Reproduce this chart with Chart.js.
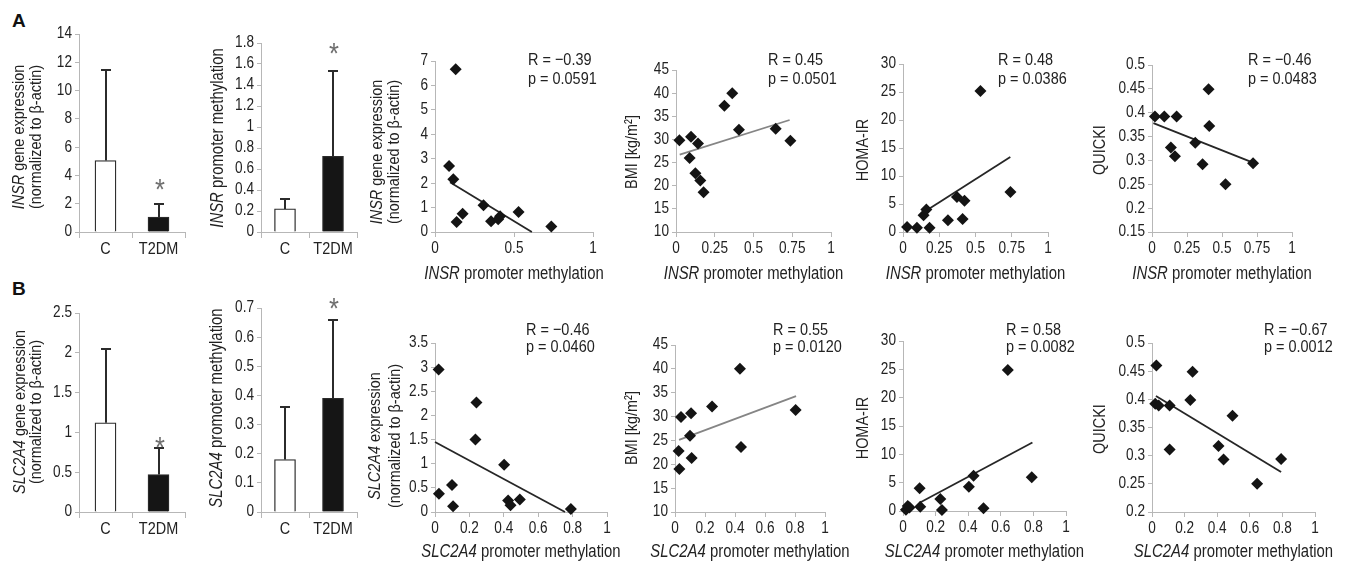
<!DOCTYPE html>
<html>
<head>
<meta charset="utf-8">
<script src="https://cdn.jsdelivr.net/npm/chart.js@4.4.1/dist/chart.umd.min.js"></script>
<style>
  html, body { margin: 0; padding: 0; background: #fff; }
  body { position: relative; width: 1346px; height: 563px; overflow: hidden; }
  canvas { position: absolute; }
  .tag { position: absolute; font: bold 19px 'Liberation Sans', Arial, sans-serif; color: #111; }
</style>
</head>
<body>
<div class="tag" style="left:12px;top:10px">A</div>
<div class="tag" style="left:12px;top:278px">B</div>
<script>
// ---- group bar data (mean and SD, upper error bar only) ----
const GROUPS = ['C', 'T2DM'];
const INSR_EXPR_MEAN = [5.05, 1.05];
const INSR_EXPR_SD = [6.4, 0.95];
const INSR_METH_MEAN = [0.22, 0.72];
const INSR_METH_SD = [0.09, 0.81];
const SLC_EXPR_MEAN = [1.12, 0.47];
const SLC_EXPR_SD = [0.93, 0.34];
const SLC_METH_MEAN = [0.18, 0.39];
const SLC_METH_SD = [0.18, 0.27];

// ---- correlation data: promoter methylation (x) vs. parameter (y) ----
const INSR_EXPR_X = [0.131, 0.089, 0.116, 0.137, 0.175, 0.307, 0.355, 0.412, 0.40, 0.529, 0.736];
const INSR_EXPR_Y = [6.66, 2.70, 2.16, 0.41, 0.75, 1.09, 0.44, 0.64, 0.52, 0.82, 0.23];
const INSR_EXPR_FIT = [[0.095, 2.04], [0.613, 0]];

const INSR_BMI_X = [0.022, 0.097, 0.088, 0.142, 0.125, 0.157, 0.178, 0.312, 0.363, 0.406, 0.643, 0.738];
const INSR_BMI_Y = [29.8, 30.6, 26.0, 29.1, 22.7, 21.1, 18.6, 37.3, 40.0, 32.1, 32.3, 29.7];
const INSR_BMI_FIT = [[0.024, 26.7], [0.733, 34.2]];

const INSR_HOMA_X = [0.028, 0.096, 0.142, 0.161, 0.183, 0.310, 0.372, 0.424, 0.411, 0.534, 0.741];
const INSR_HOMA_Y = [0.89, 0.78, 2.98, 4.0, 0.78, 2.09, 6.26, 5.6, 2.33, 25.2, 7.16];
const INSR_HOMA_FIT = [[0.14, 3.5], [0.74, 13.4]];

const INSR_QUICKI_X = [0.021, 0.088, 0.176, 0.135, 0.164, 0.309, 0.361, 0.404, 0.409, 0.525, 0.722];
const INSR_QUICKI_Y = [0.392, 0.392, 0.392, 0.327, 0.309, 0.337, 0.292, 0.449, 0.372, 0.250, 0.294];
const INSR_QUICKI_FIT = [[0.01, 0.378], [0.717, 0.296]];

const SLC_EXPR_X = [0.021, 0.023, 0.099, 0.105, 0.241, 0.235, 0.402, 0.425, 0.439, 0.493, 0.790];
const SLC_EXPR_Y = [2.95, 0.38, 0.56, 0.12, 2.27, 1.50, 0.98, 0.24, 0.14, 0.26, 0.06];
const SLC_EXPR_FIT = [[0.0, 1.45], [0.756, 0]];

const SLC_BMI_X = [0.04, 0.107, 0.10, 0.024, 0.029, 0.111, 0.247, 0.433, 0.44, 0.804];
const SLC_BMI_Y = [29.9, 30.7, 26.0, 22.8, 19.0, 21.3, 32.1, 40.0, 23.6, 31.4];
const SLC_BMI_FIT = [[0.027, 25.1], [0.807, 34.3]];

const SLC_HOMA_X = [0.018, 0.029, 0.04, 0.102, 0.106, 0.229, 0.239, 0.404, 0.433, 0.494, 0.643, 0.79];
const SLC_HOMA_Y = [0.2, 0.9, 0.6, 4.0, 0.76, 2.1, 0.18, 4.3, 6.2, 0.47, 24.9, 5.95];
const SLC_HOMA_FIT = [[0.102, 1.47], [0.794, 12.1]];

const SLC_QUICKI_X = [0.027, 0.020, 0.041, 0.108, 0.108, 0.235, 0.249, 0.494, 0.408, 0.439, 0.645, 0.792];
const SLC_QUICKI_Y = [0.460, 0.392, 0.389, 0.389, 0.311, 0.399, 0.449, 0.371, 0.317, 0.293, 0.250, 0.294];
const SLC_QUICKI_FIT = [[0.024, 0.406], [0.792, 0.271]];

// ---- tick labels ----
const TICKS_INSR_EXPR_BAR = [0, 2, 4, 6, 8, 10, 12, 14];
const TICKS_INSR_METH_BAR = [0, 0.2, 0.4, 0.6, 0.8, 1, 1.2, 1.4, 1.6, 1.8];
const TICKS_SLC_EXPR_BAR = [0, 0.5, 1, 1.5, 2, 2.5];
const TICKS_SLC_METH_BAR = [0, 0.1, 0.2, 0.3, 0.4, 0.5, 0.6, 0.7];
const TICKS_X_HALF = [0, 0.5, 1];
const TICKS_X_QUARTER = [0, 0.25, 0.5, 0.75, 1];
const TICKS_X_FIFTH = [0, 0.2, 0.4, 0.6, 0.8, 1];
const TICKS_INSR_EXPR = [0, 1, 2, 3, 4, 5, 6, 7];
const TICKS_BMI = [10, 15, 20, 25, 30, 35, 40, 45];
const TICKS_HOMA = [0, 5, 10, 15, 20, 25, 30];
const TICKS_INSR_QUICKI = [0.15, 0.2, 0.25, 0.3, 0.35, 0.4, 0.45, 0.5];
const TICKS_SLC_EXPR = [0, 0.5, 1, 1.5, 2, 2.5, 3, 3.5];
const TICKS_SLC_QUICKI = [0.2, 0.25, 0.3, 0.35, 0.4, 0.45, 0.5];

// ---- statistics printed in each correlation panel ----
const STATS_INSR = [['R = \u22120.39', 'p = 0.0591'], ['R = 0.45', 'p = 0.0501'], ['R = 0.48', 'p = 0.0386'], ['R = \u22120.46', 'p = 0.0483']];
const STATS_SLC = [['R = \u22120.46', 'p = 0.0460'], ['R = 0.55', 'p = 0.0120'], ['R = 0.58', 'p = 0.0082'], ['R = \u22120.67', 'p = 0.0012']];

// ---- styling ----
const FONT = "'Liberation Sans',Arial,sans-serif";
const SQUEEZE = 0.85;          // horizontal compression for a condensed type look
const AXIS = '#b7b7b7';
const INK = '#222';
const TICK_SIZE = 16;
const AW = 80, TOP = 45, XH = 52, RP = 60;

// Draw all canvas text horizontally condensed, keeping the anchor point fixed.
function condense(ctx) {
  const fill = ctx.fillText.bind(ctx);
  const measure = ctx.measureText.bind(ctx);
  ctx.fillText = function (text, x, y) {
    ctx.save();
    ctx.translate(x, y);
    ctx.scale(SQUEEZE, 1);
    fill(text, 0, 0);
    ctx.restore();
  };
  ctx.measureText = function (text) {
    const m = measure(text);
    return {
      width: m.width * SQUEEZE,
      actualBoundingBoxAscent: m.actualBoundingBoxAscent,
      actualBoundingBoxDescent: m.actualBoundingBoxDescent,
      actualBoundingBoxLeft: m.actualBoundingBoxLeft * SQUEEZE,
      actualBoundingBoxRight: m.actualBoundingBoxRight * SQUEEZE,
      fontBoundingBoxAscent: m.fontBoundingBoxAscent,
      fontBoundingBoxDescent: m.fontBoundingBoxDescent
    };
  };
}

function richLine(ctx, segs, x, y, size) {
  const fonts = segs.map(s => (s.i ? 'italic ' : '') + size + 'px ' + FONT);
  let total = 0;
  const ws = segs.map((s, k) => { ctx.font = fonts[k]; const w = ctx.measureText(s.t).width; total += w; return w; });
  let cx = x - total / 2;
  ctx.textAlign = 'left';
  ctx.textBaseline = 'middle';
  segs.forEach((s, k) => { ctx.font = fonts[k]; ctx.fillText(s.t, cx, y); cx += ws[k]; });
}

const panelText = {
  id: 'panelText',
  afterDatasetsDraw(chart, args, o) {
    if (!o.errTop) return;
    const ctx = chart.ctx;
    const ys = chart.scales.y;
    const meta = chart.getDatasetMeta(0);
    ctx.save();
    meta.data.forEach((bar, i) => {
      const yTop = Math.round(ys.getPixelForValue(o.errTop[i]));
      const bx = Math.round(bar.x);
      ctx.strokeStyle = '#2b2b2b';
      ctx.lineWidth = 2;
      ctx.beginPath();
      ctx.moveTo(bx, bar.y);
      ctx.lineTo(bx, yTop);
      ctx.moveTo(bx - 5, yTop);
      ctx.lineTo(bx + 5, yTop);
      ctx.stroke();
      if (o.star && o.star[i] != null) {
        ctx.font = '30px ' + FONT;
        ctx.fillStyle = '#707070';
        ctx.textAlign = 'center';
        ctx.textBaseline = 'alphabetic';
        const m = ctx.measureText('*');
        const cy = yTop - o.star[i];
        ctx.fillText('*', bx + 1, cy + (m.actualBoundingBoxAscent - m.actualBoundingBoxDescent) / 2);
      }
    });
    ctx.restore();
  },
  afterDraw(chart, args, o) {
    const ctx = chart.ctx;
    const ox = o.ox, oy = o.oy;
    ctx.save();
    ctx.fillStyle = INK;
    if (o.yTitle) {
      o.yTitle.lines.forEach((segs, k) => {
        ctx.save();
        ctx.translate(o.yTitle.x[k] - ox, o.yTitle.cy - oy);
        ctx.rotate(-Math.PI / 2);
        richLine(ctx, segs, 0, 0, o.yTitle.size);
        ctx.restore();
      });
    }
    if (o.xTitle) {
      const a = chart.chartArea;
      richLine(ctx, o.xTitle.segs, (a.left + a.right) / 2, o.xTitle.cy - oy, 17.5);
    }
    if (o.note) {
      ctx.font = '17px ' + FONT;
      ctx.textAlign = 'left';
      ctx.textBaseline = 'alphabetic';
      o.note.lines.forEach((t, k) => ctx.fillText(t, o.note.x - ox, o.note.y[k] - oy));
    }
    ctx.restore();
  }
};

function makeCanvas(rect) {
  const c = document.createElement('canvas');
  const w = rect.r - rect.l + AW + RP;
  const h = rect.b - rect.t + TOP + XH;
  c.width = w; c.height = h;
  c.style.left = (rect.l - AW) + 'px';
  c.style.top = (rect.t - TOP) + 'px';
  c.style.width = w + 'px';
  c.style.height = h + 'px';
  document.body.appendChild(c);
  condense(c.getContext('2d'));
  return { c, ox: rect.l - AW, oy: rect.t - TOP };
}

function yAxis(min, max, ticks) {
  return {
    type: 'linear', min, max,
    afterBuildTicks: s => { s.ticks = ticks.map(v => ({ value: v })); },
    afterFit: s => { s.width = AW; },
    grid: { drawOnChartArea: false, drawTicks: true, tickLength: 4, color: AXIS, lineWidth: 1 },
    border: { display: true, color: AXIS, width: 1 },
    ticks: { color: INK, font: { family: FONT, size: TICK_SIZE }, padding: 3, autoSkip: false, callback: v => String(v) }
  };
}

function barPanel(rect, mean, sd, ticks, yTitle, star) {
  const { c, ox, oy } = makeCanvas(rect);
  new Chart(c, {
    type: 'bar',
    data: {
      labels: GROUPS,
      datasets: [{
        data: mean,
        backgroundColor: ['#ffffff', '#151515'],
        borderColor: '#2a2a2a',
        borderWidth: 1.3,
        barThickness: 21
      }]
    },
    options: {
      responsive: false, animation: false,
      layout: { padding: { left: 0, top: TOP, right: RP, bottom: 0 } },
      plugins: {
        legend: { display: false }, tooltip: { enabled: false },
        panelText: { ox, oy, errTop: mean.map((m, i) => m + sd[i]), star, yTitle }
      },
      scales: {
        x: {
          type: 'category',
          afterFit: s => { s.height = XH; },
          grid: { offset: true, drawOnChartArea: false, tickLength: 6, color: AXIS },
          border: { display: true, color: AXIS },
          ticks: { color: INK, font: { family: FONT, size: 17 }, padding: 1, autoSkip: false, maxRotation: 0, minRotation: 0 }
        },
        y: yAxis(0, ticks[ticks.length - 1], ticks)
      }
    },
    plugins: [panelText]
  });
}

function scatterPanel(rect, xs, ys, fit, fitColor, xTicks, yTicks, xTitle, yTitle, note) {
  const { c, ox, oy } = makeCanvas(rect);
  new Chart(c, {
    type: 'scatter',
    data: {
      datasets: [
        {
          data: xs.map((x, i) => ({ x, y: ys[i] })),
          pointStyle: 'rectRot', pointRadius: 6, pointBorderWidth: 0,
          backgroundColor: '#141414', borderColor: '#141414', clip: false
        },
        {
          type: 'line', showLine: true,
          data: fit.map(p => ({ x: p[0], y: p[1] })),
          borderColor: fitColor, borderWidth: 1.8, pointRadius: 0, fill: false, clip: false
        }
      ]
    },
    options: {
      responsive: false, animation: false,
      layout: { padding: { left: 0, top: TOP, right: RP, bottom: 0 } },
      plugins: {
        legend: { display: false }, tooltip: { enabled: false },
        panelText: { ox, oy, xTitle, yTitle, note }
      },
      scales: {
        x: {
          type: 'linear', min: xTicks[0], max: xTicks[xTicks.length - 1],
          afterBuildTicks: s => { s.ticks = xTicks.map(v => ({ value: v })); },
          afterFit: s => { s.height = XH; },
          grid: { drawOnChartArea: false, tickLength: 5, color: AXIS },
          border: { display: true, color: AXIS },
          ticks: { color: INK, font: { family: FONT, size: TICK_SIZE }, padding: 2, autoSkip: false, maxRotation: 0, minRotation: 0, callback: v => String(v) }
        },
        y: yAxis(yTicks[0], yTicks[yTicks.length - 1], yTicks)
      }
    },
    plugins: [panelText]
  });
}

// axis titles
const INSR_METH_TITLE = [{ t: 'INSR', i: true }, { t: ' promoter methylation' }];
const SLC_METH_TITLE = [{ t: 'SLC2A4', i: true }, { t: ' promoter methylation' }];
const NORM_LINE = [{ t: '(normalized to \u03b2-actin)' }];

// ---- row A: INSR ----
barPanel({ l: 79, t: 34, r: 185, b: 232 }, INSR_EXPR_MEAN, INSR_EXPR_SD, TICKS_INSR_EXPR_BAR,
  { lines: [[{ t: 'INSR', i: true }, { t: ' gene expression' }], NORM_LINE], x: [19, 36], cy: 137, size: 17 },
  [null, 20]);
barPanel({ l: 261, t: 43, r: 357, b: 232 }, INSR_METH_MEAN, INSR_METH_SD, TICKS_INSR_METH_BAR,
  { lines: [INSR_METH_TITLE], x: [218], cy: 138, size: 17.5 },
  [null, 23]);

const rowAX = { segs: INSR_METH_TITLE, cy: 274 };
scatterPanel({ l: 435, t: 61, r: 593, b: 232 }, INSR_EXPR_X, INSR_EXPR_Y, INSR_EXPR_FIT, '#262626',
  TICKS_X_HALF, TICKS_INSR_EXPR, rowAX,
  { lines: [[{ t: 'INSR', i: true }, { t: ' gene expression' }], NORM_LINE], x: [377, 394], cy: 152, size: 17 },
  { x: 528, y: [65, 84], lines: STATS_INSR[0] });
scatterPanel({ l: 676, t: 70, r: 831, b: 232 }, INSR_BMI_X, INSR_BMI_Y, INSR_BMI_FIT, '#858585',
  TICKS_X_QUARTER, TICKS_BMI, rowAX,
  { lines: [[{ t: 'BMI [kg/m\u00b2]' }]], x: [632], cy: 152, size: 17 },
  { x: 768, y: [65, 84], lines: STATS_INSR[1] });
scatterPanel({ l: 903, t: 64, r: 1048, b: 232 }, INSR_HOMA_X, INSR_HOMA_Y, INSR_HOMA_FIT, '#262626',
  TICKS_X_QUARTER, TICKS_HOMA, rowAX,
  { lines: [[{ t: 'HOMA-IR' }]], x: [863], cy: 150, size: 17 },
  { x: 998, y: [65, 84], lines: STATS_INSR[2] });
scatterPanel({ l: 1152, t: 65, r: 1292, b: 232 }, INSR_QUICKI_X, INSR_QUICKI_Y, INSR_QUICKI_FIT, '#262626',
  TICKS_X_QUARTER, TICKS_INSR_QUICKI, rowAX,
  { lines: [[{ t: 'QUICKI' }]], x: [1100], cy: 150, size: 17 },
  { x: 1248, y: [65, 84], lines: STATS_INSR[3] });

// ---- row B: SLC2A4 ----
barPanel({ l: 79, t: 313, r: 185, b: 512 }, SLC_EXPR_MEAN, SLC_EXPR_SD, TICKS_SLC_EXPR_BAR,
  { lines: [[{ t: 'SLC2A4', i: true }, { t: ' gene expression' }], NORM_LINE], x: [20, 36], cy: 412, size: 17 },
  [null, 6]);
barPanel({ l: 261, t: 308, r: 357, b: 512 }, SLC_METH_MEAN, SLC_METH_SD, TICKS_SLC_METH_BAR,
  { lines: [SLC_METH_TITLE], x: [217], cy: 408, size: 17.5 },
  [null, 17]);

const rowBX = { segs: SLC_METH_TITLE, cy: 552 };
scatterPanel({ l: 435, t: 343, r: 607, b: 512 }, SLC_EXPR_X, SLC_EXPR_Y, SLC_EXPR_FIT, '#262626',
  TICKS_X_FIFTH, TICKS_SLC_EXPR, rowBX,
  { lines: [[{ t: 'SLC2A4', i: true }, { t: ' expression' }], NORM_LINE], x: [375, 395], cy: 436, size: 17 },
  { x: 526, y: [335, 352], lines: STATS_SLC[0] });
scatterPanel({ l: 675, t: 345, r: 825, b: 512 }, SLC_BMI_X, SLC_BMI_Y, SLC_BMI_FIT, '#858585',
  TICKS_X_FIFTH, TICKS_BMI, rowBX,
  { lines: [[{ t: 'BMI [kg/m\u00b2]' }]], x: [632], cy: 428, size: 17 },
  { x: 773, y: [335, 352], lines: STATS_SLC[1] });
scatterPanel({ l: 903, t: 341, r: 1066, b: 511 }, SLC_HOMA_X, SLC_HOMA_Y, SLC_HOMA_FIT, '#262626',
  TICKS_X_FIFTH, TICKS_HOMA, rowBX,
  { lines: [[{ t: 'HOMA-IR' }]], x: [863], cy: 428, size: 17 },
  { x: 1006, y: [335, 352], lines: STATS_SLC[2] });
scatterPanel({ l: 1152, t: 343, r: 1315, b: 512 }, SLC_QUICKI_X, SLC_QUICKI_Y, SLC_QUICKI_FIT, '#262626',
  TICKS_X_FIFTH, TICKS_SLC_QUICKI, rowBX,
  { lines: [[{ t: 'QUICKI' }]], x: [1100], cy: 429, size: 17 },
  { x: 1264, y: [335, 352], lines: STATS_SLC[3] });
</script>
</body>
</html>
